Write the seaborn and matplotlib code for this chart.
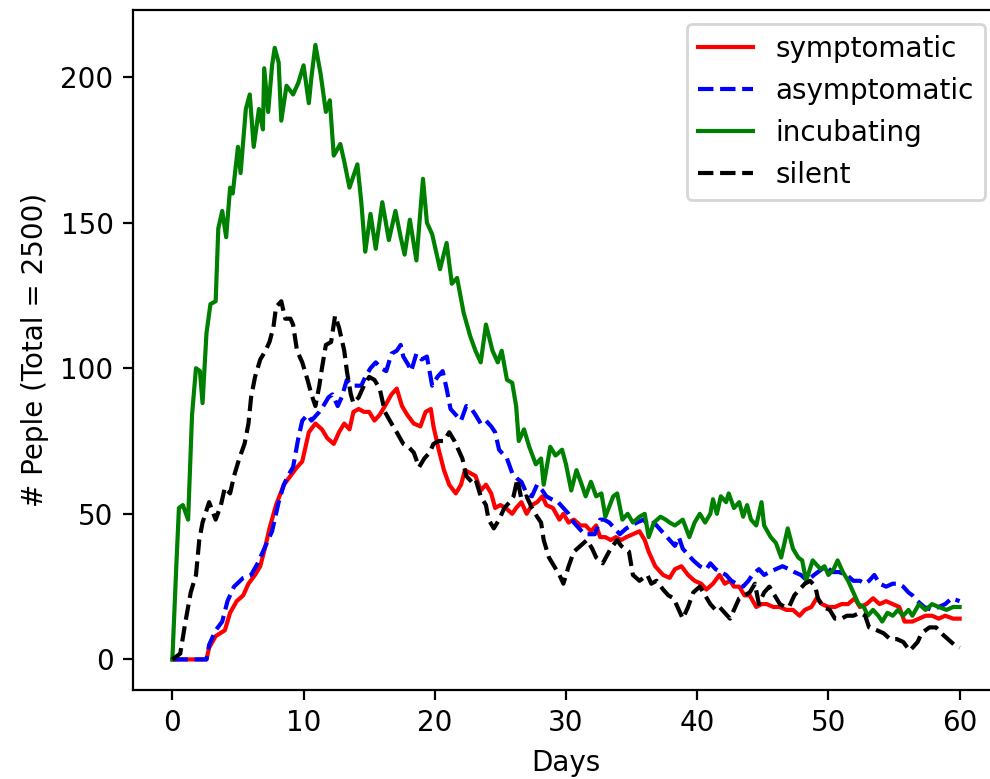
import matplotlib
matplotlib.use('Agg')
import matplotlib.pyplot as plt
import seaborn as sns

# values (days, number of people)
sym_days = [0, 2.6, 2.8, 3.3, 4.0, 4.4, 4.9, 5.4, 5.8, 6.3, 6.7, 7.1, 7.4, 7.9, 8.5, 9.0, 9.5, 9.9, 10.1, 10.4,
            10.9, 11.4, 11.8, 12.3, 12.7, 13.1, 13.5, 13.8, 14.2, 14.6, 15.0, 15.4, 15.8, 16.2, 16.7, 17.1, 17.5,
            17.9, 18.4, 18.9, 19.3, 19.7, 19.9, 20.3, 20.7, 21.1, 21.6, 22.0, 22.3, 22.7, 23.1, 23.5, 23.9, 24.3,
            24.6, 25.0, 25.4, 25.9, 26.2, 26.6, 27.0, 27.4, 27.8, 28.2, 28.5, 29.0, 29.5, 29.8, 30.2, 30.6, 31.1,
            31.5, 31.9, 32.3, 32.6, 33.0, 33.4, 33.8, 34.2, 34.6, 35.1, 35.6, 36.0, 36.3, 36.8, 37.4, 37.9, 38.3,
            38.8, 39.3, 39.8, 40.3, 40.7, 41.2, 41.7, 42.1, 42.5, 42.8, 43.2, 43.6, 44.0, 44.5, 44.9, 45.3, 45.8,
            46.3, 46.8, 47.3, 47.8, 48.2, 48.7, 49.1, 49.5, 50.0, 50.5, 51.0, 51.5, 52.0, 52.4, 52.9, 53.4, 53.9,
            54.4, 54.9, 55.4, 55.8, 56.4, 56.9, 57.4, 57.9, 58.4, 58.9, 59.5, 60.0]
sym_vals = [0, 0, 4, 8, 10, 16, 20, 22, 26, 29, 32, 39, 45, 53, 60, 63, 66, 68, 72, 78,
            81, 79, 76, 74, 78, 81, 79, 85, 86, 85, 85, 82, 84, 87, 91, 93, 87,
            84, 81, 80, 85, 86, 80, 72, 65, 60, 57, 60, 65, 64, 63, 58, 60, 57,
            52, 53, 52, 50, 52, 54, 50, 53, 54, 56, 53, 52, 48, 50, 47, 48, 46,
            46, 44, 46, 42, 42, 41, 42, 41, 42, 43, 44, 41, 37, 32, 29, 28, 31,
            32, 29, 27, 26, 24, 26, 29, 26, 27, 25, 25, 22, 22, 18, 19, 19, 18,
            18, 17, 17, 15, 17, 18, 21, 19, 18, 18, 19, 19, 21, 18, 19, 21, 19,
            20, 19, 18, 13, 13, 14, 15, 15, 14, 15, 14, 14]

asym_days = [0, 2.6, 2.8, 3.3, 3.8, 4.2, 4.7, 5.4, 6.0, 6.5, 7.1, 7.6, 8.1, 8.5, 8.8, 9.2, 9.6, 9.9, 10.3, 10.6,
             11.2, 11.5, 11.9, 12.2, 12.6, 12.9, 13.3, 13.7, 14.4, 14.7, 15.1, 15.5, 15.9, 16.3, 16.7, 17.1, 17.4,
             17.6, 18.0, 18.2, 18.6, 19.0, 19.4, 19.8, 20.2, 20.6, 20.9, 21.2, 21.6, 22.0, 22.4, 22.8, 23.1, 23.5,
             23.9, 24.3, 24.6, 24.9, 25.1, 25.5, 25.9, 26.3, 26.6, 27.0, 27.4, 27.8, 28.2, 28.5, 28.9, 29.4, 29.8,
             30.2, 30.6, 31.0, 31.4, 31.8, 32.2, 32.6, 32.9, 33.3, 33.7, 34.1, 34.6, 35.0, 35.4, 35.9, 36.3, 36.7,
             37.1, 37.5, 37.9, 38.3, 38.6, 38.9, 39.3, 39.7, 40.2, 40.7, 41.0, 41.4, 41.8, 42.2, 42.6, 43.0, 43.5,
             43.9, 44.2, 44.7, 45.1, 45.5, 46.0, 46.5, 47.0, 47.4, 47.9, 48.4, 48.9, 49.5, 49.8, 50.3, 50.8, 51.4,
             51.9, 52.4, 52.8, 53.1, 53.5, 53.9, 54.4, 54.9, 55.3, 55.7, 56.1, 56.4, 56.8, 57.3, 57.9, 58.4, 58.9,
             59.4, 60.0]
asym_vals = [0, 0, 5, 10, 13, 20, 25, 28, 29, 33, 39, 44, 54, 60, 63, 66, 76, 82, 84, 82,
             85, 87, 90, 91, 87, 90, 96, 94, 94, 97, 100, 102, 100, 99, 105, 106, 108,
             104, 101, 99, 105, 103, 104, 94, 97, 99, 93, 86, 84, 82, 87, 86, 84, 81,
             82, 80, 78, 72, 71, 69, 64, 62, 61, 57, 56, 60, 58, 56, 55, 54, 52,
             50, 47, 45, 43, 43, 43, 48, 48, 47, 45, 43, 45, 46, 47, 48, 46, 47,
             45, 43, 41, 39, 42, 38, 36, 34, 32, 31, 33, 31, 30, 29, 27, 26, 25,
             27, 29, 31, 29, 30, 31, 32, 31, 30, 29, 27, 29, 31, 32, 30, 30, 29,
             27, 27, 26, 27, 29, 26, 25, 26, 26, 25, 23, 22, 20, 18, 17, 18, 19,
             21, 20]

inc_days = [0, 0.3, 0.5, 0.8, 1.2, 1.5, 1.8, 2.1, 2.3, 2.6, 2.9, 3.3, 3.5, 3.8, 4.1, 4.4, 4.6, 5.0, 5.2, 5.6,
            5.9, 6.2, 6.6, 6.9, 7.0, 7.3, 7.6, 7.8, 8.1, 8.3, 8.7, 9.2, 9.6, 10.0, 10.4, 10.6, 10.9, 11.3, 11.7,
            12.0, 12.3, 12.8, 13.1, 13.5, 14.1, 14.4, 14.7, 15.1, 15.5, 16.0, 16.5, 17.0, 17.4, 17.7, 18.1, 18.6,
            19.1, 19.4, 19.8, 20.4, 20.9, 21.3, 21.7, 22.2, 22.7, 23.1, 23.5, 23.9, 24.4, 24.8, 25.1, 25.5, 25.9,
            26.2, 26.4, 26.8, 27.2, 27.7, 28.1, 28.3, 28.8, 29.2, 29.7, 30.0, 30.4, 30.8, 31.2, 31.5, 31.9, 32.3,
            32.7, 33.0, 33.6, 33.9, 34.3, 34.7, 35.1, 35.6, 36.0, 36.3, 36.7, 37.2, 37.6, 37.9, 38.3, 38.9, 39.4,
            39.8, 40.2, 40.6, 41.0, 41.2, 41.5, 41.8, 42.2, 42.4, 42.8, 43.2, 43.5, 43.8, 44.1, 44.5, 44.9, 45.1,
            45.6, 46.0, 46.4, 46.9, 47.3, 47.7, 48.0, 48.3, 48.8, 49.4, 49.7, 50.0, 50.4, 50.7, 51.1, 51.5, 51.9,
            52.3, 52.7, 53.0, 53.4, 53.8, 54.1, 54.5, 54.9, 55.3, 55.7, 56.1, 56.4, 56.9, 57.4, 57.9, 58.4, 59.0,
            59.5, 60.0]
inc_vals = [0, 32, 52, 53, 48, 84, 100, 99, 88, 112, 122, 123, 148, 154, 145, 162, 160, 176, 167, 189,
            194, 176, 189, 182, 203, 188, 204, 210, 205, 185, 197, 194, 198, 204, 191, 200, 211, 201, 188,
            192, 173, 177, 171, 162, 170, 157, 140, 153, 141, 157, 144, 154, 145, 139, 151, 137,
            165, 150, 146, 134, 143, 129, 131, 119, 111, 106, 102, 115, 106, 102, 106, 96, 95,
            87, 75, 79, 73, 67, 69, 60, 73, 70, 72, 67, 58, 65, 60, 56, 61, 56,
            57, 49, 56, 57, 48, 50, 47, 49, 50, 42, 47, 49, 48, 47, 46, 48, 42,
            47, 50, 47, 50, 55, 50, 56, 54, 57, 52, 54, 49, 53, 48, 46, 54, 46,
            42, 40, 35, 45, 38, 35, 34, 27, 34, 31, 32, 29, 31, 34, 30, 27, 23,
            19, 18, 15, 17, 15, 13, 16, 15, 17, 15, 17, 15, 19, 17, 19, 18, 17,
            18, 18]

sil_days = [0, 0.6, 1.0, 1.4, 1.8, 2.05, 2.3, 2.8, 3.3, 3.7, 4.0, 4.4, 4.7, 5.1, 5.5, 5.8, 6.0, 6.3, 6.7, 7.1,
            7.4, 7.7, 7.9, 8.3, 8.6, 9.0, 9.2, 9.5, 9.9, 10.3, 10.6, 10.9, 11.2, 11.4, 11.7, 12.1, 12.4, 12.7,
            13.1, 13.3, 13.6, 13.8, 14.2, 14.6, 15.0, 15.4, 15.8, 16.2, 16.7, 17.1, 17.6, 18.0, 18.4, 18.8, 19.2,
            19.6, 19.9, 20.3, 20.7, 21.1, 21.5, 21.8, 22.1, 22.4, 22.8, 23.1, 23.5, 23.9, 24.1, 24.5, 24.9, 25.3,
            25.7, 26.0, 26.3, 26.6, 27.0, 27.4, 27.8, 28.1, 28.3, 28.7, 29.1, 29.5, 29.8, 30.2, 30.6, 31.1, 31.6,
            32.0, 32.3, 32.8, 33.4, 33.9, 34.2, 34.8, 35.1, 35.6, 36.2, 36.5, 36.9, 37.4, 37.8, 38.2, 38.6, 38.9,
            39.3, 39.7, 40.2, 40.6, 41.0, 41.4, 41.7, 42.1, 42.5, 42.9, 43.2, 43.6, 44.0, 44.4, 44.7, 45.1, 45.5,
            45.9, 46.3, 46.7, 47.0, 47.4, 47.8, 48.2, 48.6, 49.0, 49.2, 49.6, 50.1, 50.5, 51.0, 51.4, 51.9, 52.4,
            52.8, 53.1, 53.7, 54.2, 54.7, 55.2, 55.7, 56.2, 56.8, 57.1, 57.7, 58.2, 58.6, 59.1, 59.6, 60.0]
sil_vals = [0, 2, 13, 23, 29, 41, 47, 54, 48, 53, 59, 57, 63, 69, 74, 81, 90, 97, 103, 106,
            109, 114, 121, 123, 117, 117, 115, 106, 102, 96, 91, 87, 94, 100, 108, 109, 118, 114,
            106, 99, 91, 88, 90, 94, 97, 96, 93, 85, 81, 78, 74, 73, 71, 66, 69,
            71, 74, 75, 75, 78, 75, 72, 69, 63, 61, 62, 56, 53, 48, 45, 48, 52,
            54, 56, 62, 55, 56, 52, 49, 47, 41, 35, 32, 29, 26, 32, 37, 39, 41,
            38, 35, 33, 38, 41, 39, 37, 29, 27, 29, 26, 27, 24, 22, 21, 17, 14,
            18, 23, 25, 22, 19, 17, 18, 16, 14, 18, 21, 22, 23, 26, 19, 23, 25,
            22, 19, 18, 18, 22, 24, 26, 27, 25, 21, 18, 17, 14, 14, 15, 15, 16,
            15, 11, 10, 9, 7, 7, 6, 3, 6, 9, 11, 11, 9, 7, 5, 4]

# the source image is cropped on the right, so the axes run past the edge
fig = plt.figure(figsize=(990 / 200, 779 / 200), dpi=200)
ax = fig.add_axes([133 / 990, 89 / 779, 866 / 990, 680 / 779])

sns.lineplot(x=sym_days, y=sym_vals, ax=ax, color='red', linestyle='-', label='symptomatic', estimator=None)
sns.lineplot(x=asym_days, y=asym_vals, ax=ax, color='blue', linestyle='--', label='asymptomatic', estimator=None)
sns.lineplot(x=inc_days, y=inc_vals, ax=ax, color='green', linestyle='-', label='incubating', estimator=None)
sns.lineplot(x=sil_days, y=sil_vals, ax=ax, color='black', linestyle='--', label='silent', estimator=None)

ax.set_xlim(-3, 63)
ax.set_ylim(-10.5, 223)
ax.set_xticks([0, 10, 20, 30, 40, 50, 60])
ax.set_yticks([0, 50, 100, 150, 200])
ax.set_xlabel('Days')
ax.set_ylabel('# Peple (Total = 2500)')
ax.legend(loc='upper right')

fig.savefig('out.png', dpi=200)
